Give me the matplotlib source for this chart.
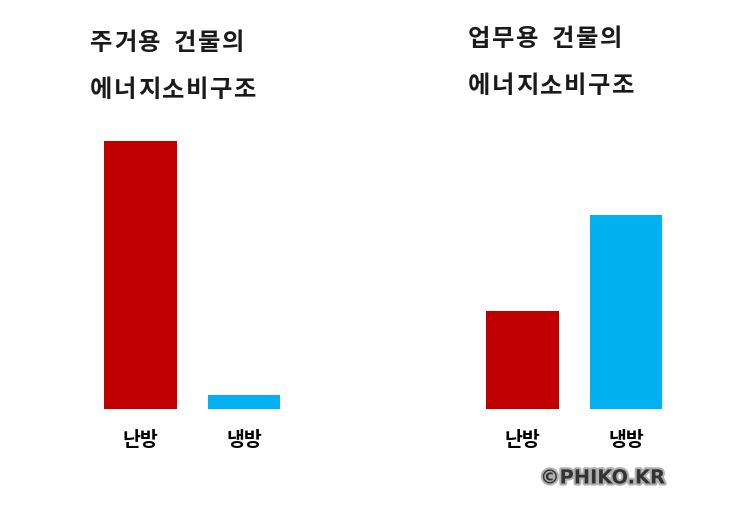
import matplotlib
matplotlib.use("Agg")
import matplotlib.pyplot as plt
import matplotlib.patheffects as pe

plt.rcParams["font.family"] = ["Noto Sans CJK KR", "DejaVu Sans"]

W, H = 743, 515
RED, BLUE = "#C00000", "#00B0F0"

categories = ["난방", "냉방"]
residential = [268, 14]
office = [98, 194]
titles = [("주거용 건물의", "에너지소비구조"), ("업무용 건물의", "에너지소비구조")]

BASE, TOP = 409, 120          # baseline / top of plot area (px from top)
STEP = 103.5                  # px per category unit
panels = [(residential, 140.5, (90, 43), (90, 90)),
          (office, 522.5, (468, 39), (468, 86))]


def fig_box(cx0, x_lo, x_hi):
    left = (cx0 + x_lo * STEP) / W
    width = (x_hi - x_lo) * STEP / W
    bottom = (H - BASE) / H
    height = (BASE - TOP) / H
    return [left, bottom, width, height]


def spaced_text(fig, px, py, txt, adv=24, space_adv=12, **kw):
    # the source title is slightly letter-spaced, so lay glyphs out one by one
    x = px
    for ch in txt:
        if ch == " ":
            x += space_adv
            continue
        fig.text(x / W, 1 - py / H, ch, ha="left", va="center", **kw)
        x += adv


def main():
    fig = plt.figure(figsize=(W / 100, H / 100), dpi=100)
    for (vals, cx0, t1, t2), (l1, l2) in zip(panels, titles):
        x_lo, x_hi = -0.5, 1.5
        ax = fig.add_axes(fig_box(cx0, x_lo, x_hi))
        ax.bar([0, 1], vals, width=0.7, color=[RED, BLUE])
        ax.set_xlim(x_lo, x_hi)
        ax.set_ylim(0, BASE - TOP)
        ax.set_xticks([0, 1], categories)
        ax.tick_params(axis="x", length=0, pad=16, labelsize=14)
        for lab in ax.get_xticklabels():
            lab.set_fontweight("bold")
        ax.set_yticks([])
        for s in ax.spines.values():
            s.set_visible(False)
        for (px, py), txt in ((t1, l1), (t2, l2)):
            spaced_text(fig, px, py, txt, fontsize=17.5, fontweight="bold",
                        color="#1a1a1a")

    fig.text(665 / W, 1 - 478 / H, "©PHIKO.KR", fontsize=14, fontweight="bold",
             family="DejaVu Sans", color="#333333", ha="right", va="center",
             path_effects=[pe.withStroke(linewidth=3, foreground="#b0b0b0")])

    fig.savefig("out.png", dpi=100)


if __name__ == "__main__":
    main()
